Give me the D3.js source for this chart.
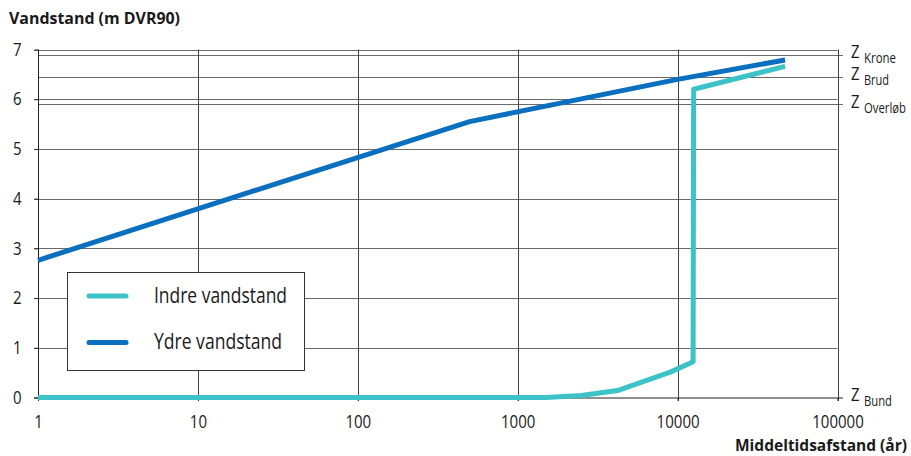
<!DOCTYPE html>
<html>
<head>
<meta charset="utf-8">
<script src="https://cdn.jsdelivr.net/npm/d3@7"></script>
<style>
  html, body { margin: 0; padding: 0; background: #fff; }
  svg text { font-family: "Open Sans", sans-serif; fill: #1a1a1a; }
</style>
</head>
<body>
<svg id="chart" width="911" height="456"></svg>
<script>
// Return period (years) on a log axis against water level (m DVR90)
const xTicks = [1, 10, 100, 1000, 10000, 100000];
const yTicks = [0, 1, 2, 3, 4, 5, 6, 7];

// Inner water level (Indre vandstand)
const indreX = [1, 1500, 2500, 4200, 9000, 12500, 12600, 47000];
const indreY = [0, 0, 0.04, 0.14, 0.51, 0.72, 6.2, 6.66];

// Outer water level (Ydre vandstand)
const ydreX = [1, 500, 10000, 47000];
const ydreY = [2.76, 5.55, 6.40, 6.79];

// Reference levels of the dike
const levelNames = ["Krone", "Brud", "Overløb", "Bund"];
const levelValues = [6.89, 6.45, 5.9, 0];

const seriesNames = ["Indre vandstand", "Ydre vandstand"];
const seriesColors = ["#3cc3c7", "#0a6fbf"];

// squeeze text to a condensed set width
function condense(sel, width) {
  sel.each(function (d, i) {
    const w = typeof width === "function" ? width.call(this, d, i) : width;
    this.setAttribute("textLength", w);
    this.setAttribute("lengthAdjust", "spacingAndGlyphs");
  });
  return sel;
}

const svg = d3.select("#chart");
const x = d3.scaleLog().domain([1, 100000]).range([38, 837.5]);
const y = d3.scaleLinear().domain([0, 7]).range([397.5, 49.5]);

const gridColor = "#6a6a6a";
const px = v => Math.round(v) + 0.5;

// horizontal grid at each whole metre
svg.append("g").selectAll("line").data(yTicks.filter(d => d > 0)).join("line")
  .attr("x1", 34).attr("x2", 837.5)
  .attr("y1", d => px(y(d))).attr("y2", d => px(y(d)))
  .attr("stroke", gridColor).attr("stroke-width", 1);

// dike reference levels, running past the plot into their labels
svg.append("g").selectAll("line").data(levelValues.filter(d => d > 0)).join("line")
  .attr("x1", 38).attr("x2", 843)
  .attr("y1", d => px(y(d))).attr("y2", d => px(y(d)))
  .attr("stroke", gridColor).attr("stroke-width", 1);

// vertical grid at each decade
svg.append("g").selectAll("line").data(xTicks.slice(1)).join("line")
  .attr("x1", d => px(x(d))).attr("x2", d => px(x(d)))
  .attr("y1", 49.5).attr("y2", 401)
  .attr("stroke", "#444").attr("stroke-width", 1);

// axes
const yAxis = d3.axisLeft(y).tickValues(yTicks).tickSize(4).tickPadding(13).tickFormat(d3.format("d"));
const gy = svg.append("g").attr("transform", "translate(38.5,0)").call(yAxis);
gy.select(".domain").attr("d", `M0,${y(7)}V${y(0) + 3}`).attr("stroke", "#222");
gy.selectAll(".tick line").attr("stroke", "#222");
gy.selectAll(".tick text").attr("font-size", 18).attr("fill", "#1a1a1a").attr("font-family", null);
condense(gy.selectAll(".tick text"), 8.6);

const xAxis = d3.axisBottom(x).tickValues(xTicks).tickSize(3).tickFormat(d3.format("d"));
const gx = svg.append("g").attr("transform", "translate(0,398)").call(xAxis);
gx.select(".domain").attr("d", `M34,0H843`).attr("stroke", "#222");
gx.selectAll(".tick line").attr("stroke", "#222");
gx.selectAll(".tick text").attr("font-size", 18).attr("fill", "#1a1a1a").attr("font-family", null)
  .attr("y", 30).attr("dy", null);
condense(gx.selectAll(".tick text"), d => 8.6 * String(d).length);

// level labels: "Z" with subscript name
const subWidths = [32, 25, 42, 28];
const lab = svg.append("g").selectAll("g").data(levelNames).join("g")
  .attr("transform", (d, i) => `translate(0,${y(levelValues[i])})`);
condense(lab.append("text").attr("x", 851).attr("y", 3.5).attr("font-size", 19).text("Z"), 8.5);
condense(lab.append("text").attr("x", 864).attr("y", 8.5).attr("font-size", 14).text(d => d),
  (d, i) => subWidths[i]);

// series lines
const line = d3.line().x(d => x(d[0])).y(d => y(d[1]));
const series = [
  d3.zip(indreX, indreY),
  d3.zip(ydreX, ydreY)
];
svg.append("g").selectAll("path").data(series).join("path")
  .attr("d", line)
  .attr("fill", "none")
  .attr("stroke", (d, i) => seriesColors[i])
  .attr("stroke-width", 5)
  .attr("stroke-linejoin", "round")
  .attr("stroke-linecap", "butt");

// legend
const lg = svg.append("g");
lg.append("rect").attr("x", 67.5).attr("y", 272.5).attr("width", 237).attr("height", 98)
  .attr("fill", "#fff").attr("stroke", "#333").attr("stroke-width", 1);
const items = lg.selectAll("g.item").data(seriesNames).join("g").attr("class", "item")
  .attr("transform", (d, i) => `translate(0,${296 + i * 46.5})`);
items.append("line").attr("x1", 89).attr("x2", 126)
  .attr("stroke", (d, i) => seriesColors[i]).attr("stroke-width", 5).attr("stroke-linecap", "round");
condense(items.append("text").attr("x", 154).attr("y", 6.5).attr("font-size", 21).text(d => d),
  (d, i) => [133, 128][i]);

// titles
condense(svg.append("text").attr("x", 9).attr("y", 24).attr("font-size", 16).attr("font-weight", "bold")
  .text("Vandstand (m DVR90)"), 171);
condense(svg.append("text").attr("x", 735).attr("y", 451).attr("font-size", 16).attr("font-weight", "bold")
  .text("Middeltidsafstand (år)"), 172);
</script>
</body>
</html>
